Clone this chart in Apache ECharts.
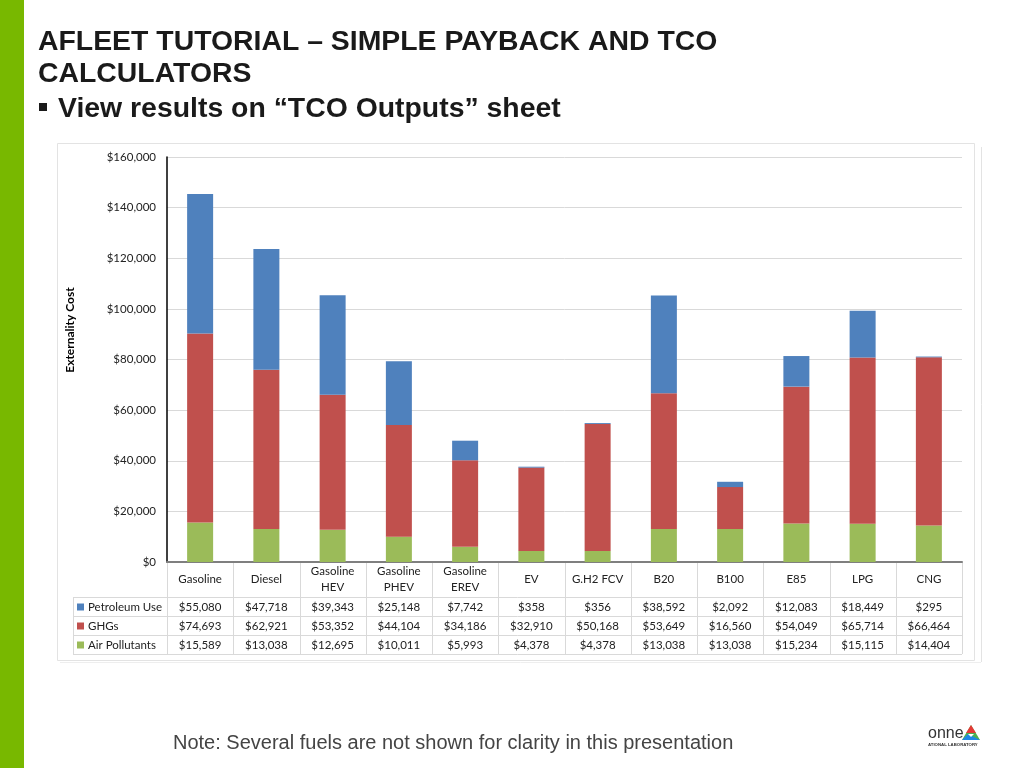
<!DOCTYPE html>
<html><head><meta charset="utf-8">
<script src="https://cdn.jsdelivr.net/npm/echarts@6/dist/echarts.min.js"></script>
<style>html,body{margin:0;padding:0;background:#fff}#c{width:1024px;height:768px}</style>
</head><body><div id="c"></div>
<script>
const categories = ['Gasoline','Diesel','Gasoline\nHEV','Gasoline\nPHEV','Gasoline\nEREV','EV','G.H2 FCV','B20','B100','E85','LPG','CNG'];
const petroleumUse = [55080,47718,39343,25148,7742,358,356,38592,2092,12083,18449,295];
const ghgs = [74693,62921,53352,44104,34186,32910,50168,53649,16560,54049,65714,66464];
const airPollutants = [15589,13038,12695,10011,5993,4378,4378,13038,13038,15234,15115,14404];
const seriesNames = ['Petroleum Use','GHGs','Air Pollutants'];
const colors = {'Petroleum Use':'#4F81BD','GHGs':'#C0504D','Air Pollutants':'#9BBB59'};
const yTicks = {min:0,max:160000,interval:20000};

const chart = echarts.init(document.getElementById('c'));
const fmt = v => '$' + v.toLocaleString('en-US');
const FONT = 'Lato, "Open Sans", sans-serif';
const FS = 11.5;

const option = {
  animation:false,
  backgroundColor:'#fff',
  grid:{left:167,right:62,top:157,bottom:206,containLabel:false},
  xAxis:{type:'category',data:categories,
    axisLine:{lineStyle:{color:'#7f7f7f',width:2}},
    axisTick:{show:false},
    axisLabel:{interval:0,color:'#222',fontFamily:FONT,fontSize:FS,lineHeight:16,margin:17,verticalAlign:'middle'}},
  yAxis:{type:'value',min:yTicks.min,max:yTicks.max,interval:yTicks.interval,
    axisLine:{show:true,lineStyle:{color:'#000',width:1.5}},
    axisTick:{show:false},
    splitLine:{lineStyle:{color:'#d9d9d9',width:1}},
    axisLabel:{color:'#222',fontFamily:FONT,fontSize:FS,margin:11,formatter:v=>fmt(v)}},
  series:[
    {name:'Air Pollutants',type:'bar',stack:'t',data:airPollutants,barWidth:26,itemStyle:{color:colors['Air Pollutants']}},
    {name:'GHGs',type:'bar',stack:'t',data:ghgs,barWidth:26,itemStyle:{color:colors['GHGs']}},
    {name:'Petroleum Use',type:'bar',stack:'t',data:petroleumUse,barWidth:26,itemStyle:{color:colors['Petroleum Use']}}
  ]
};
chart.setOption(option);

// Build data table & decorations
const g = [];
const y0 = chart.convertToPixel({yAxisIndex:0},0);
const xL = 167, xR = 1024-62;
const step = (xR-xL)/categories.length;
const rowTops = [597,616,635,654];
const lineColor = '#d9d9d9';
// frame
g.push({type:'rect',shape:{x:57.5,y:143.5,width:917,height:517},style:{fill:null,stroke:'#e3e3e3',lineWidth:1},z:-1});
g.push({type:'line',shape:{x1:981.5,y1:147,x2:981.5,y2:662},style:{stroke:'#e3e3e3',lineWidth:1}});
g.push({type:'line',shape:{x1:60,y1:662.5,x2:981,y2:662.5},style:{stroke:'#eeeeee',lineWidth:1}});
// y axis title
g.push({type:'text',x:70,y:330,rotation:Math.PI/2,style:{text:'Externality Cost',fill:'#000',font:'bold 12px '+FONT,textAlign:'center',textVerticalAlign:'middle'}});
// horizontal table lines
rowTops.forEach(y=>g.push({type:'line',shape:{x1:73,y1:y+0.5,x2:xR,y2:y+0.5},style:{stroke:lineColor,lineWidth:1}}));
// vertical lines
for(let k=1;k<=categories.length;k++){
  const x = Math.round(xL+k*step)+0.5;
  g.push({type:'line',shape:{x1:x,y1:y0,x2:x,y2:654},style:{stroke:lineColor,lineWidth:1}});
}
g.push({type:'line',shape:{x1:xL+0.5,y1:y0,x2:xL+0.5,y2:654},style:{stroke:lineColor,lineWidth:1}});
g.push({type:'line',shape:{x1:73.5,y1:597,x2:73.5,y2:654},style:{stroke:lineColor,lineWidth:1}});
// rows
const rows = [petroleumUse,ghgs,airPollutants];
rows.forEach((arr,r)=>{
  const cy = (rowTops[r]+rowTops[r+1])/2+0.5;
  g.push({type:'rect',shape:{x:77,y:cy-3.5,width:7,height:7},style:{fill:colors[seriesNames[r]]}});
  g.push({type:'text',x:88,y:cy,style:{text:seriesNames[r],fill:'#222',font:FS+'px '+FONT,textVerticalAlign:'middle',textAlign:'left'}});
  arr.forEach((v,i)=>{
    const cx = chart.convertToPixel({xAxisIndex:0},i);
    g.push({type:'text',x:cx,y:cy,style:{text:fmt(v),fill:'#222',font:FS+'px '+FONT,textAlign:'center',textVerticalAlign:'middle'}});
  });
});
// left green bar
g.push({type:'rect',shape:{x:0,y:0,width:24,height:768},style:{fill:'#78B800'}});
// titles
const TF = 'bold 28.4px "Liberation Sans", Arial, sans-serif';
g.push({type:'text',x:38,y:42,style:{text:'AFLEET TUTORIAL – SIMPLE PAYBACK AND TCO',fill:'#1a1a1a',font:TF,textVerticalAlign:'middle'}});
g.push({type:'text',x:38,y:74,style:{text:'CALCULATORS',fill:'#1a1a1a',font:TF,textVerticalAlign:'middle'}});
g.push({type:'rect',shape:{x:39,y:103,width:8,height:8},style:{fill:'#1a1a1a'}});
g.push({type:'text',x:58,y:109,style:{text:'View results on “TCO Outputs” sheet',fill:'#1a1a1a',font:TF,textVerticalAlign:'middle'}});
// note
g.push({type:'text',x:173,y:743,style:{text:'Note: Several fuels are not shown for clarity in this presentation',fill:'#444',font:'20px "Liberation Sans", Arial, sans-serif',textVerticalAlign:'middle'}});
// logo
g.push({type:'text',x:928,y:734,style:{text:'onne',fill:'#333',font:'16px "Liberation Sans", Arial, sans-serif',textVerticalAlign:'middle'}});
g.push({type:'text',x:928,y:745,style:{text:'ATIONAL LABORATORY',fill:'#333',font:'bold 4.3px "Liberation Sans", Arial, sans-serif',textVerticalAlign:'middle'}});
g.push({type:'polygon',shape:{points:[[971,725],[962,740],[980,740]]},style:{fill:'#4caf50'}});
g.push({type:'polygon',shape:{points:[[971,725],[976,733],[966,733]]},style:{fill:'#e53935'}});
g.push({type:'polygon',shape:{points:[[962,740],[968,734],[980,740]]},style:{fill:'#1e88e5'}});
g.push({type:'polygon',shape:{points:[[968,734],[971,737],[974,734]]},style:{fill:'#fff'}});
chart.setOption({graphic:g});
</script></body></html>
